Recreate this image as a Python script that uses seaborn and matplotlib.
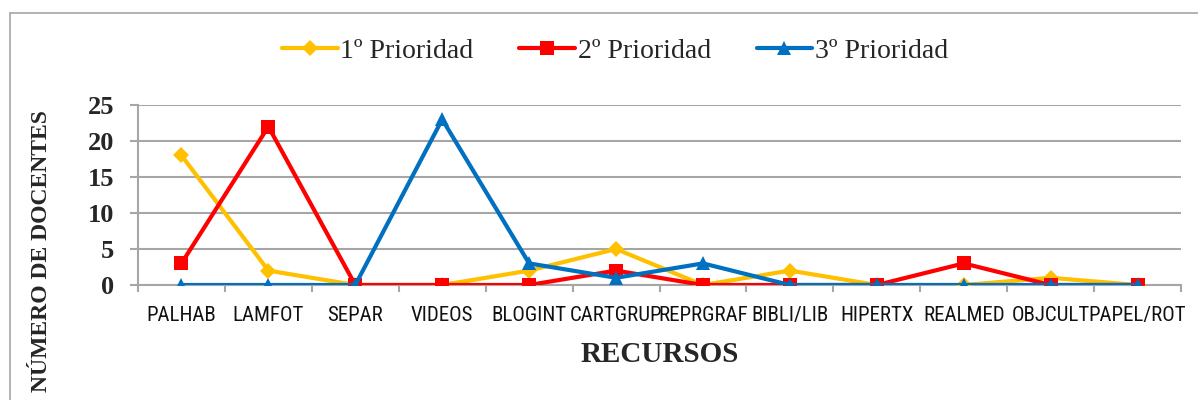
import matplotlib
matplotlib.use('Agg')
import matplotlib.pyplot as plt
import seaborn as sns
from matplotlib import font_manager as fm
from matplotlib.lines import Line2D
from matplotlib.patheffects import AbstractPathEffect
from matplotlib.transforms import Affine2D

# data
recursos = ['PALHAB', 'LAMFOT', 'SEPAR', 'VIDEOS', 'BLOGINT', 'CARTGRUP',
            'REPRGRAF', 'BIBLI/LIB', 'HIPERTX', 'REALMED', 'OBJCULT', 'PAPEL/ROT']
prioridad_1 = [18, 2, 0, 0, 2, 5, 0, 2, 0, 0, 1, 0]
prioridad_2 = [3, 22, 0, 0, 0, 2, 0, 0, 0, 3, 0, 0]
prioridad_3 = [0, 0, 0, 23, 3, 1, 3, 0, 0, 0, 0, 0]

series = [
    ('1º Prioridad', prioridad_1, '#FFC000', 'D', 8),
    ('2º Prioridad', prioridad_2, '#FF0000', 's', 10),
    ('3º Prioridad', prioridad_3, '#0070C0', '^', 10),
]


def have_font(name):
    try:
        fm.findfont(fm.FontProperties(family=name), fallback_to_default=False)
        return True
    except ValueError:
        return False


class Squeeze(AbstractPathEffect):
    """squeeze text horizontally around its centre (fake condensed face)"""
    def __init__(self, fx):
        super().__init__()
        self.fx = fx

    def draw_path(self, renderer, gc, tpath, affine, rgbFace=None):
        ext = tpath.get_extents(affine)
        cx = (ext.x0 + ext.x1) / 2
        aff = affine + Affine2D().translate(-cx, 0).scale(self.fx, 1).translate(cx, 0)
        renderer.draw_path(gc, tpath, aff, rgbFace)


sns.set_style('white')
serif = ['Liberation Serif', 'DejaVu Serif']
narrow_name = next((f for f in ['Liberation Sans Narrow', 'Roboto Condensed',
                                'Open Sans Condensed', 'Arial Narrow'] if have_font(f)), None)
grid_col = '#A6A6A6'

fig = plt.figure(figsize=(11.98, 4), dpi=100)
ax = fig.add_axes([138 / 1198, 1 - 285 / 400, (1181 - 138) / 1198, 180 / 400])

for i, (lab, vals, col, mk, ms) in enumerate(series):
    sns.lineplot(x=recursos, y=vals, sort=False, ax=ax, color=col, linewidth=3,
                 marker=mk, markersize=ms, markeredgewidth=0, label=lab, zorder=3 + i)

ax.set_xlim(-0.5, len(recursos) - 0.5)
ax.set_ylim(0, 25)
ax.set_yticks([0, 5, 10, 15, 20, 25])
ax.yaxis.grid(True, color=grid_col, linewidth=1.5)
ax.xaxis.grid(False)
ax.set_axisbelow(True)
for s in ['top', 'right']:
    ax.spines[s].set_visible(False)
for s in ['left', 'bottom']:
    ax.spines[s].set_color(grid_col)
    ax.spines[s].set_linewidth(1.5)

ax.tick_params(axis='y', length=6, color=grid_col, width=1.5, pad=11, left=True)
ax.tick_params(axis='x', which='major', length=0, pad=15)
ax.set_xticks([x - 0.5 for x in range(len(recursos) + 1)], minor=True)
ax.tick_params(axis='x', which='minor', length=5, color=grid_col, width=1.5, bottom=True)

for t in ax.get_yticklabels():
    t.set_fontfamily(serif)
    t.set_fontweight('bold')
    t.set_fontsize(19)
for t in ax.get_xticklabels():
    t.set_color('#111111')
    if narrow_name:
        t.set_fontfamily([narrow_name, 'DejaVu Sans'])
        t.set_fontsize(15)
    else:
        t.set_fontfamily(['Liberation Sans', 'DejaVu Sans'])
        t.set_fontweight('bold')
        t.set_fontsize(15)
        t.set_path_effects([Squeeze(0.68)])

ax.set_xlabel('')
ax.set_ylabel('')
fig.text(0.551, 1 - 355 / 400, 'RECURSOS', family=serif, fontweight='bold',
         fontsize=21, ha='center', va='center')
fig.text(42 / 1198, 1 - 110 / 400, 'NÚMERO DE DOCENTES', family=serif,
         fontweight='bold', fontsize=17, rotation=90, ha='center', va='top')

handles, labels = ax.get_legend_handles_labels()
ax.legend(handles, labels, ncol=3, loc='center', bbox_to_anchor=(615 / 1198, 1 - 51 / 400),
          bbox_transform=fig.transFigure, frameon=False, prop={'family': serif, 'size': 20},
          handlelength=2.0, handletextpad=0.1, columnspacing=1.65)

# chart frame (only top and left edges are visible in the crop)
fig.add_artist(Line2D([10 / 1198, 10 / 1198], [0, 1 - 13 / 400], transform=fig.transFigure,
                      color=grid_col, linewidth=1.2))
fig.add_artist(Line2D([10 / 1198, 1], [1 - 13 / 400, 1 - 13 / 400], transform=fig.transFigure,
                      color=grid_col, linewidth=1.2))

fig.savefig('out.png', dpi=100)
plt.close('all')
